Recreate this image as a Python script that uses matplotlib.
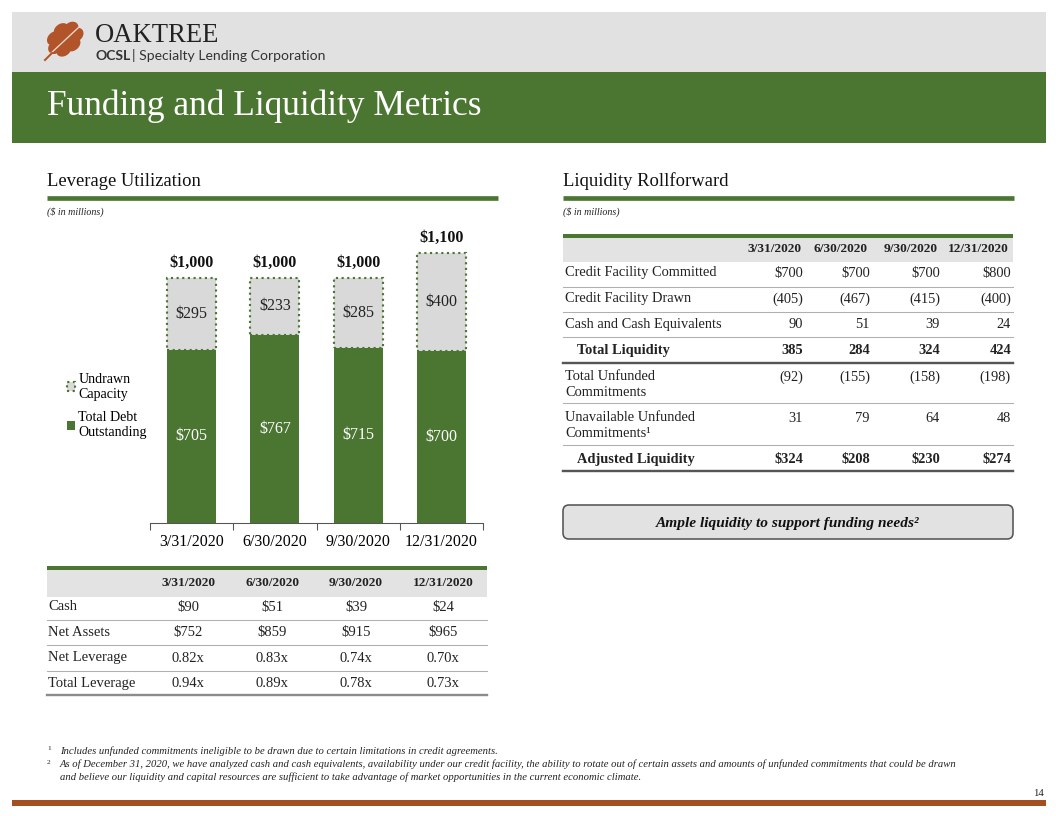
import numpy as np
import matplotlib
matplotlib.use("Agg")
import matplotlib.pyplot as plt
from matplotlib.patches import Rectangle, FancyBboxPatch, Polygon

# ---- data ----
dates = ["3/31/2020", "6/30/2020", "9/30/2020", "12/31/2020"]
debt = [705, 767, 715, 700]
undrawn = [295, 233, 285, 400]
totals = [1000, 1000, 1000, 1100]

lev_rows = ["Cash", "Net Assets", "Net Leverage", "Total Leverage"]
lev_vals = [["$90", "$51", "$39", "$24"],
            ["$752", "$859", "$915", "$965"],
            ["0.82x", "0.83x", "0.74x", "0.70x"],
            ["0.94x", "0.89x", "0.78x", "0.73x"]]

liq_rows = ["Credit Facility Committed", "Credit Facility Drawn", "Cash and Cash Equivalents",
            "Total Liquidity", "Total Unfunded\nCommitments", "Unavailable Unfunded\nCommitments¹",
            "Adjusted Liquidity"]
liq_vals = [["$700", "$700", "$700", "$800"],
            ["(405)", "(467)", "(415)", "(400)"],
            ["90", "51", "39", "24"],
            ["385", "284", "324", "424"],
            ["(92)", "(155)", "(158)", "(198)"],
            ["31", "79", "64", "48"],
            ["$324", "$208", "$230", "$274"]]
liq_bold = [False, False, False, True, False, False, True]

GREEN = "#4b7631"
LGRAY = "#d9d9d9"
SERIF = "Liberation Serif"

fig = plt.figure(figsize=(11, 8.5), dpi=96)
ov = fig.add_axes([0, 0, 1, 1])
ov.set_xlim(0, 1056)
ov.set_ylim(816, 0)
ov.axis("off")

# header bands
ov.add_patch(Rectangle((12, 12), 1034, 60, color="#e1e1e1", lw=0))
ov.add_patch(Rectangle((12, 72), 1034, 71, color=GREEN, lw=0))
ov.text(47, 106, "Funding and Liquidity Metrics", color="white", family=SERIF,
        fontsize=26.5, va="center")

# leaf logo (decoration)
t = np.linspace(0, 2 * np.pi, 300)
r = 1 + 0.2 * np.abs(np.sin(3.5 * t)) ** 0.7
lx, ly = 17 * r * np.cos(t), 13 * r * np.sin(t)
ang = np.deg2rad(-40)
px = 65 + lx * np.cos(ang) - ly * np.sin(ang)
py = 39 + lx * np.sin(ang) + ly * np.cos(ang)
ov.add_patch(Polygon(np.column_stack([px, py]), color="#b1542a", lw=0))
ov.plot([49, 78], [55, 28], color="#f0d8c8", lw=1)
ov.plot([45, 52], [60, 53], color="#b1542a", lw=1.5)

ov.text(95, 36, "OAKTREE", family=SERIF, fontsize=20, va="center", color="#222222")
ov.text(95, 56, "OCSL", family="Lato", fontsize=10.5, weight="bold", va="center", color="#333333")
ov.text(132, 56, "| Specialty Lending Corporation", family="Lato", fontsize=10.5,
        va="center", color="#333333")

# section titles
for x0, title in [(47, "Leverage Utilization"), (563, "Liquidity Rollforward")]:
    ov.text(x0, 181, title, family=SERIF, fontsize=14, va="center", color="#111111")
    ov.plot([x0, x0 + 451], [198, 198], color=GREEN, lw=3.5, solid_capstyle="butt")
    ov.text(x0, 212, "($ in millions)", family=SERIF, fontsize=7.5, style="italic",
            va="center", color="#222222")

# ---- bar chart ----
ax = fig.add_axes([150 / 1056, (816 - 523) / 816, 333 / 1056, 294.5 / 816])
x = np.arange(len(dates))
b1 = ax.bar(x, debt, width=0.59, color=GREEN, label="Total Debt\nOutstanding")
b2 = ax.bar(x, undrawn, bottom=debt, width=0.59, facecolor=LGRAY, edgecolor=GREEN,
            linestyle=":", linewidth=1.6, label="Undrawn\nCapacity")
for i in range(len(dates)):
    ax.text(x[i], debt[i] / 2, f"${debt[i]}", color="white", ha="center", va="center",
            family=SERIF, fontsize=12)
    ax.text(x[i], debt[i] + undrawn[i] / 2, f"${undrawn[i]}", color="#222222", ha="center",
            va="center", family=SERIF, fontsize=12)
    ax.text(x[i], totals[i] + 60, f"${totals[i]:,}", color="#111111", ha="center",
            va="center", family=SERIF, fontsize=12, weight="bold")
ax.set_xlim(-0.5, 3.5)
ax.set_ylim(0, 1200)
ax.set_xticks(np.arange(-0.5, 4, 1))
ax.set_xticklabels([])
ax.set_xticks(x, minor=True)
ax.set_xticklabels(dates, minor=True, family=SERIF, fontsize=12)
ax.tick_params(axis="x", which="major", length=5, color="#555555")
ax.tick_params(axis="x", which="minor", length=0, pad=8)
ax.set_yticks([])
for s in ["left", "right", "top"]:
    ax.spines[s].set_visible(False)
ax.spines["bottom"].set_color("#555555")
ax.patch.set_alpha(0)
ax.legend(handles=[b2, b1], loc="center left", bbox_to_anchor=(54 / 1056, 1 - 406 / 816),
          bbox_transform=fig.transFigure, frameon=False, handlelength=0.6, handleheight=0.6,
          handletextpad=0.25, labelspacing=0.75, prop={"family": SERIF, "size": 10.5})

# ---- leverage table ----
ov.add_patch(Rectangle((47, 569), 440, 28, color="#e3e3e3", lw=0))
ov.plot([47, 487], [568, 568], color=GREEN, lw=3, solid_capstyle="butt")
lev_cx = [188, 272, 356, 443]
for j, d in enumerate(dates):
    ov.text(lev_cx[j], 583, d, family=SERIF, fontsize=10, weight="bold", ha="center",
            va="center", color="#222222")
for i, name in enumerate(lev_rows):
    y = 607 + i * 25.5
    ov.text(48, y, name, family=SERIF, fontsize=11, va="center", color="#222222")
    for j in range(4):
        ov.text(lev_cx[j], y, lev_vals[i][j], family=SERIF, fontsize=11, ha="center",
                va="center", color="#222222")
    if i < len(lev_rows) - 1:
        ov.plot([47, 487], [y + 12.5, y + 12.5], color="#b0b0b0", lw=0.8)
ov.plot([47, 487], [695, 695], color="#8c8c8c", lw=1.8)

# ---- liquidity table ----
ov.add_patch(Rectangle((563, 237), 450, 25, color="#e3e3e3", lw=0))
ov.plot([563, 1013], [236, 236], color=GREEN, lw=3, solid_capstyle="butt")
liq_rx = [803, 870, 940, 1011]
for j, d in enumerate(dates):
    ov.text(liq_rx[j] - 2, 249, d, family=SERIF, fontsize=10, weight="bold", ha="right",
            va="center", color="#222222")
row_y = [273, 299, 325, 351, 377, 418, 460]
sep_y = [287, 312, 337, 363, 403, 445, 471]
for i, name in enumerate(liq_rows):
    w = "bold" if liq_bold[i] else "normal"
    xl = 577 if liq_bold[i] else 565
    ov.text(xl, row_y[i] - 7, name, family=SERIF, fontsize=10.8, weight=w, va="top",
            color="#222222", linespacing=1.33)
    for j in range(4):
        ov.text(liq_rx[j], row_y[i], liq_vals[i][j], family=SERIF, fontsize=10.8, weight=w,
                ha="right", va="center", color="#222222")
for k, y in enumerate(sep_y):
    heavy = k in (3, 6)
    ov.plot([563, 1013], [y, y], color="#555555" if heavy else "#b0b0b0",
            lw=1.8 if heavy else 0.8)

# callout
ov.add_patch(FancyBboxPatch((563, 505), 450, 34, boxstyle="round,pad=0,rounding_size=6",
                            facecolor="#e2e2e2", edgecolor="#555555", lw=1.2))
ov.text(788, 523, "Ample liquidity to support funding needs²", family=SERIF, fontsize=11.5,
        weight="bold", style="italic", ha="center", va="center", color="#111111")

# footnotes
fn = dict(family=SERIF, fontsize=8, style="italic", va="center", color="#222222")
ov.text(47, 749, "1", family=SERIF, fontsize=5.5, va="center", color="#222222")
ov.text(60, 751, "Includes unfunded commitments ineligible to be drawn due to certain "
        "limitations in credit agreements.", **fn)
ov.text(47, 762, "2", family=SERIF, fontsize=5.5, va="center", color="#222222")
ov.text(60, 764, "As of December 31, 2020, we have analyzed cash and cash equivalents, "
        "availability under our credit facility, the ability to rotate out of certain assets "
        "and amounts of unfunded commitments that could be drawn", **fn)
ov.text(60, 777, "and believe our liquidity and capital resources are sufficient to take "
        "advantage of market opportunities in the current economic climate.", **fn)
ov.text(1044, 793, "14", family=SERIF, fontsize=8, ha="right", va="center", color="#222222")
ov.add_patch(Rectangle((12, 800), 1034, 6, color="#a34f1f", lw=0))

fig.savefig("out.png", dpi=96)
